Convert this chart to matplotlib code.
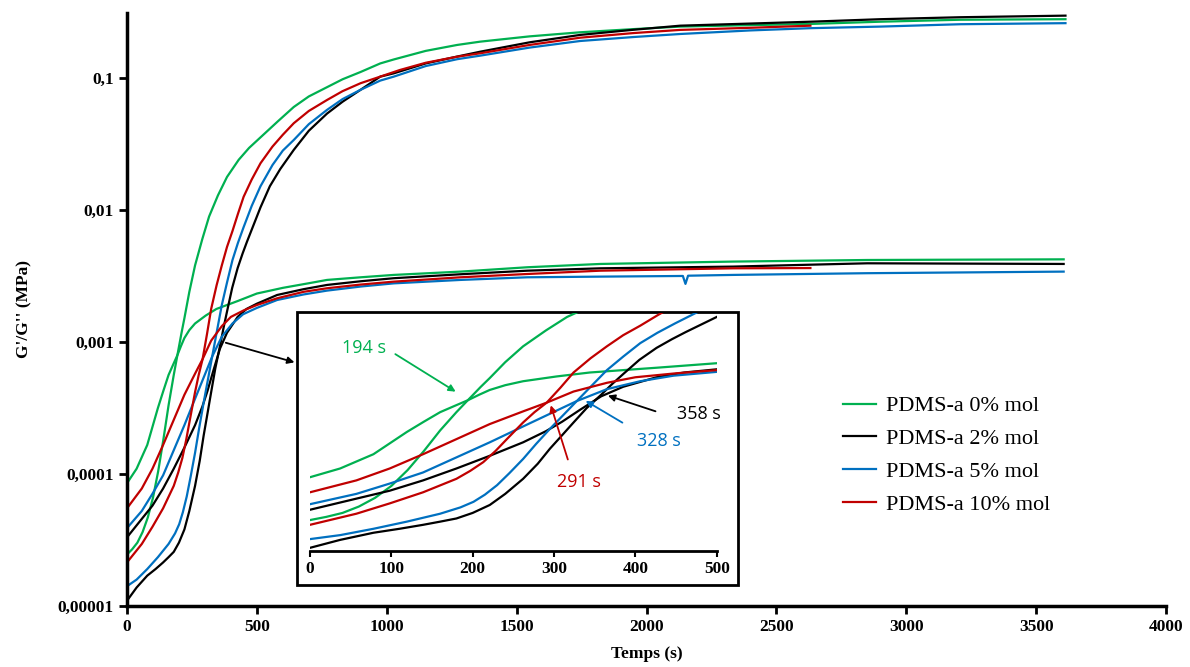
import numpy as np
import matplotlib
matplotlib.use("Agg")
import matplotlib.pyplot as plt
from matplotlib.patches import Rectangle

# === Data (time in s, log10 of modulus in MPa) ===
labels = ["PDMS-a 0% mol", "PDMS-a 2% mol", "PDMS-a 5% mol", "PDMS-a 10% mol"]
colors = ["#00B050", "#000000", "#0070C0", "#C00000"]

# G' (storage modulus)
t_gp_0 = [0, 20, 40, 60, 80, 100, 120, 140, 160, 180, 194, 210, 221, 240, 262, 290, 316, 350, 385, 430, 470,
          514, 580, 642, 700, 770, 830, 899, 975, 1027, 1150, 1271, 1360, 1550, 1745, 1950, 2130, 2400, 2631,
          2900, 3209, 3613]
g_gp_0 = [-4.61, -4.57, -4.52, -4.44, -4.33, -4.18, -3.98, -3.74, -3.48, -3.25, -3.10, -2.93, -2.82, -2.62,
          -2.42, -2.22, -2.05, -1.89, -1.75, -1.62, -1.53, -1.45, -1.33, -1.22, -1.14, -1.07, -1.01, -0.955,
          -0.89, -0.86, -0.795, -0.75, -0.725, -0.685, -0.654, -0.63, -0.611, -0.60, -0.591, -0.574, -0.559,
          -0.555]
t_gp_2 = [0, 37, 78, 110, 139, 160, 180, 200, 221, 240, 262, 280, 295, 310, 324, 340, 358, 372, 385, 405, 426,
          445, 462, 490, 514, 550, 590, 642, 700, 770, 830, 899, 975, 1027, 1150, 1271, 1360, 1550, 1745, 1950,
          2130, 2400, 2631, 2900, 3209, 3613]
g_gp_2 = [-4.96, -4.86, -4.77, -4.72, -4.67, -4.63, -4.59, -4.52, -4.42, -4.28, -4.09, -3.90, -3.71, -3.54,
          -3.38, -3.20, -3.03, -2.89, -2.77, -2.59, -2.44, -2.33, -2.24, -2.10, -1.98, -1.82, -1.69, -1.545,
          -1.40, -1.27, -1.18, -1.09, -0.99, -0.965, -0.89, -0.838, -0.801, -0.73, -0.674, -0.635, -0.604,
          -0.588, -0.574, -0.555, -0.540, -0.528]
t_gp_5 = [0, 37, 78, 119, 160, 185, 201, 215, 230, 245, 262, 278, 295, 312, 328, 345, 365, 385, 406, 427, 449,
          480, 514, 560, 600, 642, 700, 770, 830, 899, 975, 1027, 1150, 1271, 1360, 1550, 1745, 1950, 2130,
          2400, 2631, 2900, 3209, 3613]
g_gp_5 = [-4.85, -4.80, -4.72, -4.63, -4.53, -4.45, -4.38, -4.29, -4.17, -4.02, -3.84, -3.65, -3.46, -3.28,
          -3.11, -2.93, -2.72, -2.55, -2.38, -2.25, -2.13, -1.97, -1.82, -1.66, -1.55, -1.47, -1.35, -1.242,
          -1.16, -1.09, -1.02, -0.99, -0.91, -0.858, -0.831, -0.77, -0.720, -0.69, -0.667, -0.64, -0.623,
          -0.611, -0.593, -0.585]
t_gp_10 = [0, 57, 98, 139, 180, 197, 213, 228, 242, 262, 276, 291, 308, 324, 345, 365, 385, 406, 427, 449, 480,
           514, 560, 600, 642, 700, 770, 830, 899, 975, 1050, 1150, 1271, 1360, 1550, 1745, 1950, 2130, 2400,
           2631]
g_gp_10 = [-4.67, -4.53, -4.40, -4.26, -4.09, -3.99, -3.88, -3.74, -3.59, -3.38, -3.25, -3.13, -2.94, -2.75,
           -2.57, -2.42, -2.28, -2.16, -2.03, -1.90, -1.77, -1.646, -1.52, -1.43, -1.343, -1.25, -1.167, -1.10,
           -1.04, -0.99, -0.94, -0.885, -0.839, -0.813, -0.75, -0.695, -0.66, -0.636, -0.62, -0.604]

# G'' (loss modulus)
t_gpp_0 = [0, 37, 78, 119, 140, 160, 178, 194, 208, 221, 240, 262, 303, 344, 385, 426, 500, 600, 700, 770, 900,
           1027, 1284, 1541, 1822, 2334, 2850, 3606]
g_gpp_0 = [-4.07, -3.96, -3.78, -3.50, -3.37, -3.25, -3.17, -3.10, -3.03, -2.97, -2.91, -2.86, -2.80, -2.75,
           -2.72, -2.69, -2.633, -2.59, -2.555, -2.53, -2.51, -2.492, -2.467, -2.434, -2.409, -2.391, -2.379,
           -2.374]
t_gpp_2 = [0, 57, 98, 139, 180, 221, 262, 290, 310, 332, 358, 385, 426, 460, 500, 578, 680, 770, 900, 1027, 1284,
           1541, 1822, 2334, 2850, 3606]
g_gpp_2 = [-4.48, -4.34, -4.24, -4.11, -3.96, -3.80, -3.63, -3.49, -3.37, -3.22, -3.05, -2.93, -2.81, -2.75,
           -2.71, -2.644, -2.60, -2.568, -2.54, -2.517, -2.487, -2.460, -2.442, -2.429, -2.404, -2.409]
t_gpp_5 = [0, 57, 98, 139, 180, 221, 262, 295, 328, 365, 406, 447, 500, 578, 680, 770, 900, 1027, 1284, 1541,
           1822, 2140, 2150, 2160, 2334, 2850, 3606]
g_gpp_5 = [-4.41, -4.28, -4.15, -4.01, -3.82, -3.63, -3.43, -3.27, -3.11, -2.96, -2.86, -2.79, -2.742, -2.682,
           -2.64, -2.611, -2.58, -2.556, -2.530, -2.510, -2.505, -2.500, -2.56, -2.498, -2.492, -2.479, -2.467]
t_gpp_10 = [0, 57, 98, 139, 180, 221, 262, 291, 324, 365, 400, 450, 500, 578, 680, 770, 900, 1027, 1284, 1541,
            1822, 2334, 2631]
g_gpp_10 = [-4.26, -4.11, -3.96, -3.78, -3.59, -3.40, -3.24, -3.13, -2.99, -2.88, -2.81, -2.76, -2.72, -2.669,
            -2.62, -2.593, -2.565, -2.543, -2.510, -2.485, -2.460, -2.442, -2.440]

series = [
    (t_gp_0, g_gp_0, t_gpp_0, g_gpp_0),
    (t_gp_2, g_gp_2, t_gpp_2, g_gpp_2),
    (t_gp_5, g_gp_5, t_gpp_5, g_gpp_5),
    (t_gp_10, g_gp_10, t_gpp_10, g_gpp_10),
]

# crossover annotations in the inset: (text, colour, text pos, arrow tail, arrow head)
cross_notes = [
    ("194 s", "#00B050", (67, -2.44), (102, -2.50), (182, -3.01)),
    ("291 s", "#C00000", (331, -4.13), (318, -3.88), (295, -3.13)),
    ("328 s", "#0070C0", (429, -3.61), (387, -3.40), (336, -3.09)),
    ("358 s", "#000000", (478, -3.27), (428, -3.25), (363, -3.03)),
]

serif = "Liberation Serif"
W, H = 1190, 667

fig = plt.figure(figsize=(11.9, 6.67), dpi=100)
ax = fig.add_axes([127 / W, 1 - 606 / H, (1166 - 127) / W, (606 - 13) / H])

for (tp, gp, tpp, gpp), c, lab in zip(series, colors, labels):
    ax.plot(tp, 10 ** np.array(gp), color=c, lw=1.6, label=lab)
    ax.plot(tpp, 10 ** np.array(gpp), color=c, lw=1.6)

ax.set_yscale("log")
ax.set_xlim(0, 4000)
ax.set_ylim(1e-5, 10 ** -0.508)
ax.set_xticks(np.arange(0, 4001, 500))
ax.set_xticklabels([str(v) for v in range(0, 4001, 500)])
ax.set_yticks([1e-5, 1e-4, 1e-3, 1e-2, 1e-1])
ax.set_yticklabels(["0,00001", "0,0001", "0,001", "0,01", "0,1"])
ax.minorticks_off()
for s in ["top", "right"]:
    ax.spines[s].set_visible(False)
for s in ["left", "bottom"]:
    ax.spines[s].set_linewidth(2.5)
ax.tick_params(axis="both", direction="out", length=6, width=2, labelsize=12.5)
for lbl in ax.get_xticklabels() + ax.get_yticklabels():
    lbl.set_fontfamily(serif)
    lbl.set_fontweight("bold")
ax.set_xlabel("Temps (s)", fontfamily=serif, fontweight="bold", fontsize=12.5, labelpad=8)
ax.set_ylabel("G'/G'' (MPa)", fontfamily=serif, fontweight="bold", fontsize=12.5, labelpad=18)

ax.legend(loc="upper left", bbox_to_anchor=(834 / W, 1 - 387 / H), bbox_transform=fig.transFigure,
          frameon=False, prop={"family": serif, "size": 16}, handlelength=1.5, handletextpad=0.45,
          labelspacing=0.55, borderaxespad=0)

# arrow from the crossover region to the inset
ax.annotate("", xy=(655, 10 ** -3.16), xytext=(370, 10 ** -3.0),
            arrowprops=dict(arrowstyle="-|>", color="black", lw=1.3, mutation_scale=10))

# inset frame and axes
box = Rectangle((297 / W, 1 - 585 / H), (738 - 297) / W, (585 - 312) / H, transform=fig.transFigure,
                facecolor="white", edgecolor="black", lw=2, zorder=2)
fig.add_artist(box)

axi = fig.add_axes([310 / W, 1 - 551 / H, (716.7 - 310) / W, (551 - 313) / H])
axi.set_zorder(3)
axi.patch.set_alpha(0)
for (tp, gp, tpp, gpp), c in zip(series, colors):
    axi.plot(tp, 10 ** np.array(gp), color=c, lw=1.6)
    axi.plot(tpp, 10 ** np.array(gpp), color=c, lw=1.6)
axi.set_yscale("log")
axi.set_xlim(0, 500)
axi.set_ylim(1e-5, 1e-2)
axi.set_yticks([])
axi.minorticks_off()
axi.set_xticks(np.arange(0, 501, 100))
for s in ["top", "right", "left"]:
    axi.spines[s].set_visible(False)
axi.spines["bottom"].set_linewidth(2)
axi.tick_params(axis="x", direction="out", length=4, width=1.5, labelsize=12.5)
for lbl in axi.get_xticklabels():
    lbl.set_fontfamily(serif)
    lbl.set_fontweight("bold")

for txt, c, tpos, tail, head in cross_notes:
    axi.text(tpos[0], 10 ** tpos[1], txt, color=c, fontsize=13, ha="center", va="center",
             fontfamily="Open Sans")
    axi.annotate("", xy=(head[0], 10 ** head[1]), xytext=(tail[0], 10 ** tail[1]),
                 arrowprops=dict(arrowstyle="-|>", color=c, lw=1.3, mutation_scale=10))

fig.savefig("out.png", dpi=100)
